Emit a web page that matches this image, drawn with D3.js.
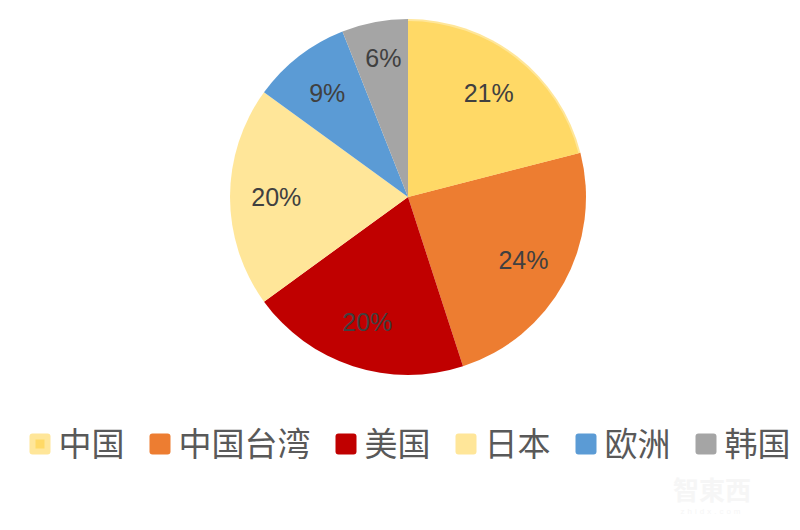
<!DOCTYPE html>
<html><head><meta charset="utf-8">
<script src="https://cdn.jsdelivr.net/npm/d3@7"></script>
<style>html,body{margin:0;padding:0;background:#fff;}svg{display:block;}</style>
</head><body>
<script>
const categories = ["中国", "中国台湾", "美国", "日本", "欧洲", "韩国"];
const values = [21, 24, 20, 20, 9, 6];
const colors = ["#FFD966", "#ED7D31", "#C00000", "#FFE699", "#5B9BD5", "#A5A5A5"];
const strokes = ["#FFE699", "none", "none", "none", "none", "none"];
const labelText = values.map(v => v + "%");

const W = 800, H = 530;
const svg = d3.select("body").append("svg").attr("width", W).attr("height", H);
const cx = 408, cy = 197, R = 178;

const pie = d3.pie().sort(null).value(d => d.v);
const data = categories.map((c, i) => ({c, v: values[i], i}));
const arcs = pie(data);
const arc = d3.arc().innerRadius(0).outerRadius(R);
const arcIn = d3.arc().innerRadius(0).outerRadius(R - 2);
const labelArc = d3.arc().innerRadius(R * 0.74).outerRadius(R * 0.74);

const g = svg.append("g").attr("transform", `translate(${cx},${cy})`);
g.selectAll("path.s").data(arcs).enter().append("path")
  .attr("class", "s")
  .attr("d", arc)
  .attr("fill", d => strokes[d.data.i] !== "none" ? strokes[d.data.i] : colors[d.data.i]);
g.selectAll("path.in").data(arcs.filter(d => strokes[d.data.i] !== "none")).enter().append("path")
  .attr("class", "in")
  .attr("d", arcIn)
  .attr("fill", d => colors[d.data.i]);

g.selectAll("text.l").data(arcs).enter().append("text")
  .attr("class", "l")
  .attr("transform", d => {
    const [x, y] = labelArc.centroid(d);
    return `translate(${x},${d.data.v < 8 ? y - 10 : y})`;
  })
  .attr("text-anchor", "middle")
  .attr("dy", "0.36em")
  .style("font-family", "'Liberation Sans', Arial, sans-serif")
  .style("font-size", "25px")
  .attr("fill", "#404040")
  .text((d, i) => labelText[i]);

// legend
const lg = svg.append("g").attr("transform", "translate(0,444)");
const sw = 21, gapT = 8, gapItem = 25, fs = 33;
const items = lg.selectAll("g.it").data(categories).enter().append("g").attr("class", "it");
items.append("rect")
  .attr("width", sw).attr("height", sw).attr("y", -sw / 2).attr("rx", 3)
  .attr("fill", (d, i) => strokes[i] !== "none" ? strokes[i] : colors[i]);
items.filter((d, i) => strokes[i] !== "none").append("rect")
  .attr("x", 6).attr("y", -sw / 2 + 6).attr("width", sw - 12).attr("height", sw - 12)
  .attr("fill", (d) => colors[categories.indexOf(d)]);
items.append("text")
  .attr("x", sw + gapT).attr("dy", "0.36em")
  .style("font-family", "'Noto Sans CJK SC', sans-serif")
  .style("font-size", fs + "px")
  .attr("fill", "#595959")
  .text(d => d);
let widths = [];
items.each(function () {
  const t = d3.select(this).select("text").node();
  widths.push(sw + gapT + t.getComputedTextLength());
});
const total = d3.sum(widths) + gapItem * (widths.length - 1);
let x = 410 - total / 2;
items.each(function (d, i) {
  d3.select(this).attr("transform", `translate(${x},0)`);
  x += widths[i] + gapItem;
});

// watermark
svg.append("text").attr("x", 712).attr("y", 500).attr("text-anchor", "middle")
  .style("font-family", "'Noto Sans CJK SC', sans-serif").style("font-size", "26px")
  .style("font-weight", "bold")
  .attr("fill", "#f6f6f6").text("智東西");
svg.append("text").attr("x", 712).attr("y", 514).attr("text-anchor", "middle")
  .style("font-family", "'Liberation Sans', sans-serif").style("font-size", "8px")
  .attr("letter-spacing", "3px")
  .attr("fill", "#f6f6f6").text("zhidx.com");
</script>
</body></html>
